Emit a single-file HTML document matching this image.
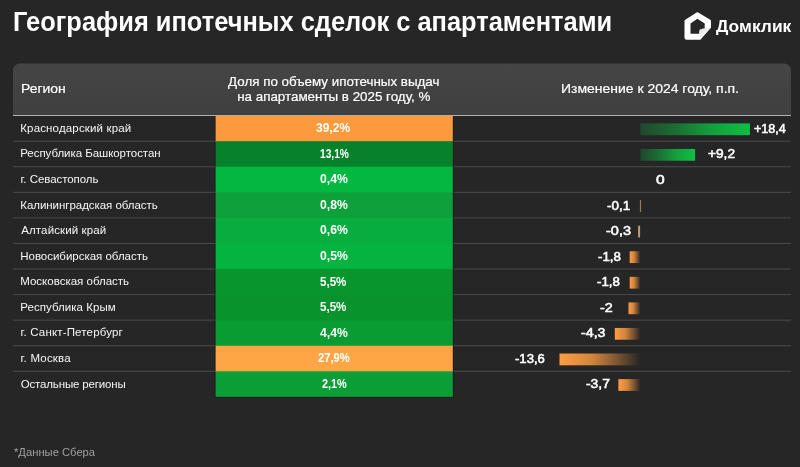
<!DOCTYPE html>
<html lang="ru"><head><meta charset="utf-8"><title>География ипотечных сделок с апартаментами</title>
<style>
html,body{margin:0;padding:0}
body{width:800px;height:467px;overflow:hidden;background:#262626;font-family:"Liberation Sans",sans-serif;color:#fff;position:relative}
h1{position:absolute;margin:0;left:12.5px;top:6.4px;font-size:27px;line-height:32px;font-weight:bold;white-space:nowrap;transform-origin:0 50%;transform:scaleX(.9415)}
.th{position:absolute;font-size:13.5px;line-height:18px;white-space:nowrap;color:#fff;-webkit-text-stroke:.2px #fff}
.bg{position:absolute;left:0;top:0}
.reg{position:absolute;font-size:11.5px;line-height:14px;white-space:nowrap;color:#f6f6f6}
.pct{position:absolute;transform-origin:0 50%;font-size:12px;line-height:14px;font-weight:bold;color:#fff;white-space:nowrap}
.lab{position:absolute;transform-origin:0 50%;font-size:13px;line-height:14px;font-weight:normal;-webkit-text-stroke:.55px #fff;white-space:nowrap}
.foot{position:absolute;left:13.6px;top:444.6px;font-size:11.5px;line-height:14px;color:#a0a0a0;white-space:nowrap;transform-origin:0 50%;transform:scaleX(.975)}
.logo{position:absolute;left:684px;top:12px;width:27px;height:28px}
.brand{position:absolute;left:715.8px;top:16px;font-size:16.5px;line-height:20px;font-weight:bold;white-space:nowrap;transform-origin:0 50%;transform:scaleX(1.055)}
</style></head><body>
<svg class="bg" width="800" height="467" viewBox="0 0 800 467">
<defs>
<linearGradient id="hg" x1="0" y1="0" x2="0" y2="1"><stop offset="0" stop-color="#454545"/><stop offset="1" stop-color="#3f3f3f"/></linearGradient>
<linearGradient id="pg" x1="0" y1="0" x2="1" y2="0"><stop offset="0" stop-color="#0ebe43" stop-opacity=".22"/><stop offset=".3" stop-color="#0ebe43" stop-opacity=".45"/><stop offset=".65" stop-color="#0ebe43" stop-opacity=".8"/><stop offset="1" stop-color="#0ebe43" stop-opacity="1"/></linearGradient>
<linearGradient id="ng" x1="0" y1="0" x2="1" y2="0"><stop offset="0" stop-color="#ff9d42" stop-opacity="1"/><stop offset=".4" stop-color="#ff9d42" stop-opacity=".8"/><stop offset=".75" stop-color="#ff9d42" stop-opacity=".35"/><stop offset="1" stop-color="#ff9d42" stop-opacity="0"/></linearGradient>
</defs>
<path d="M13 115.5 V70.5 a7 7 0 0 1 7 -7 H784 a7 7 0 0 1 7 7 V115.5 Z" fill="url(#hg)"/>
<rect x="13" y="115" width="778" height="1" fill="#b2b2b2"/>
<rect x="13" y="140.67" width="778" height="1" fill="#4b4b4b"/>
<rect x="13" y="166.24" width="778" height="1" fill="#4b4b4b"/>
<rect x="13" y="191.81" width="778" height="1" fill="#4b4b4b"/>
<rect x="13" y="217.38" width="778" height="1" fill="#4b4b4b"/>
<rect x="13" y="242.95" width="778" height="1" fill="#4b4b4b"/>
<rect x="13" y="268.52" width="778" height="1" fill="#4b4b4b"/>
<rect x="13" y="294.09" width="778" height="1" fill="#4b4b4b"/>
<rect x="13" y="319.66" width="778" height="1" fill="#4b4b4b"/>
<rect x="13" y="345.23" width="778" height="1" fill="#4b4b4b"/>
<rect x="13" y="370.80" width="778" height="1" fill="#4b4b4b"/>
<rect x="214.7" y="116.00" width="239.1" height="281.77" fill="#1d1d1d"/>
<rect x="215.6" y="115.90" width="237.2" height="26.07" fill="#fe9a3e"/>
<rect x="640.4" y="123.38" width="109.5" height="11.8" fill="url(#pg)"/>
<rect x="215.6" y="141.17" width="237.2" height="26.37" fill="#07812a"/>
<rect x="640.4" y="148.95" width="54.7" height="11.8" fill="url(#pg)"/>
<rect x="215.6" y="166.74" width="237.2" height="26.37" fill="#03b841"/>
<rect x="215.6" y="192.31" width="237.2" height="26.37" fill="#0ea03a"/>
<rect x="639.9" y="200.09" width="1.2" height="11.8" fill="#e2b184" fill-opacity=".6"/>
<rect x="215.6" y="217.88" width="237.2" height="26.37" fill="#07ae3f"/>
<rect x="638.1" y="225.66" width="2.0" height="11.8" fill="#e9bd94" fill-opacity=".78"/>
<rect x="215.6" y="243.45" width="237.2" height="26.37" fill="#04b340"/>
<rect x="629.7" y="251.24" width="10.7" height="11.8" fill="url(#ng)"/>
<rect x="215.6" y="269.02" width="237.2" height="26.37" fill="#08952e"/>
<rect x="629.7" y="276.81" width="10.7" height="11.8" fill="url(#ng)"/>
<rect x="215.6" y="294.59" width="237.2" height="26.37" fill="#08932d"/>
<rect x="628.5" y="302.38" width="11.9" height="11.8" fill="url(#ng)"/>
<rect x="215.6" y="320.16" width="237.2" height="26.37" fill="#089c32"/>
<rect x="614.8" y="327.94" width="25.6" height="11.8" fill="url(#ng)"/>
<rect x="215.6" y="345.73" width="237.2" height="26.37" fill="#fea546"/>
<rect x="559.5" y="353.52" width="80.9" height="11.8" fill="url(#ng)"/>
<rect x="215.6" y="371.30" width="237.2" height="25.57" fill="#0b9d36"/>
<rect x="618.4" y="379.08" width="22.0" height="11.8" fill="url(#ng)"/>
</svg>
<h1>География ипотечных сделок с апартаментами</h1>
<svg class="logo" viewBox="0 0 27 28">
<defs><linearGradient id="fg" x1="0.1" y1="0" x2="0.6" y2="0.9"><stop offset="0" stop-color="#9a9a9a"/><stop offset="0.25" stop-color="#e6e6e6"/><stop offset="1" stop-color="#ffffff"/></linearGradient></defs>
<path d="M12.6 0.5 Q13.4 0 14.2 0.5 L26.2 7.8 Q27 8.3 27 9.2 L27 15.4 L16.2 27.8 L2.6 27.8 Q0.5 27.8 0.5 25.8 L0.5 9.2 Q0.5 8.3 1.3 7.8 Z M13.4 6.8 L6.5 11.4 L6.5 21.8 L15.4 21.8 L15.4 19.2 Q15.4 17.4 17.2 17.1 L20.7 16.5 L20.7 11.4 Z" fill="#fff" fill-rule="evenodd"/>
<path d="M17.2 17.1 L27 15.4 L16.2 27.8 L15.4 21.8 L15.4 19.2 Q15.4 17.4 17.2 17.1 Z" fill="url(#fg)"/>
</svg>
<div class="brand">Домклик</div>
<div class="th" style="left:21px;top:80px;transform-origin:0 50%;transform:scaleX(1.03)">Регион</div>
<div class="th" style="left:215.5px;width:237px;top:73.5px;text-align:center;line-height:15px"><span style="display:inline-block;transform:scaleX(.99)">Доля по объему ипотечных выдач<br>на апартаменты в 2025 году, %</span></div>
<div class="th" style="left:560.8px;top:79.6px;font-size:13.3px;transform-origin:0 50%;transform:scaleX(1.05)">Изменение к 2024 году, п.п.</div>

<div class="reg" style="left:20.26px;top:120.88px;letter-spacing:0.156px">Краснодарский край</div>
<div class="pct" style="left:316.40px;top:121.18px;transform:scaleX(1.001)">39,2%</div>
<div class="lab" style="left:753.78px;top:121.78px;transform:scaleX(0.968)">+18,4</div>
<div class="reg" style="left:20.26px;top:146.45px;letter-spacing:-0.053px">Республика Башкортостан</div>
<div class="pct" style="left:319.52px;top:146.75px;transform:scaleX(0.850)">13,1%</div>
<div class="lab" style="left:708.00px;top:147.35px;transform:scaleX(1.054)">+9,2</div>
<div class="reg" style="left:20.62px;top:172.03px;letter-spacing:-0.055px">г. Севастополь</div>
<div class="pct" style="left:320.00px;top:172.33px;transform:scaleX(1.016)">0,4%</div>
<div class="lab" style="left:656.00px;top:172.93px;transform:scaleX(1.198)">0</div>
<div class="reg" style="left:20.26px;top:197.59px;letter-spacing:-0.044px">Калининградская область</div>
<div class="pct" style="left:320.00px;top:197.90px;transform:scaleX(1.016)">0,8%</div>
<div class="lab" style="left:606.80px;top:198.50px;transform:scaleX(1.032)">-0,1</div>
<div class="reg" style="left:21.26px;top:223.16px;letter-spacing:0.116px">Алтайский край</div>
<div class="pct" style="left:320.00px;top:223.47px;transform:scaleX(1.016)">0,6%</div>
<div class="lab" style="left:606.00px;top:224.06px;transform:scaleX(1.115)">-0,3</div>
<div class="reg" style="left:20.26px;top:248.74px;letter-spacing:-0.021px">Новосибирская область</div>
<div class="pct" style="left:320.00px;top:249.04px;transform:scaleX(1.016)">0,5%</div>
<div class="lab" style="left:598.00px;top:249.64px;transform:scaleX(1.022)">-1,8</div>
<div class="reg" style="left:20.26px;top:274.31px;letter-spacing:0.002px">Московская область</div>
<div class="pct" style="left:319.95px;top:274.61px;transform:scaleX(0.964)">5,5%</div>
<div class="lab" style="left:597.26px;top:275.20px;transform:scaleX(1.020)">-1,8</div>
<div class="reg" style="left:20.26px;top:299.88px;letter-spacing:0.044px">Республика Крым</div>
<div class="pct" style="left:319.97px;top:300.18px;transform:scaleX(0.964)">5,5%</div>
<div class="lab" style="left:600.26px;top:300.78px;transform:scaleX(1.102)">-2</div>
<div class="reg" style="left:20.62px;top:325.44px;letter-spacing:0.162px">г. Санкт-Петербург</div>
<div class="pct" style="left:320.00px;top:325.75px;transform:scaleX(1.016)">4,4%</div>
<div class="lab" style="left:580.66px;top:326.34px;transform:scaleX(1.094)">-4,3</div>
<div class="reg" style="left:20.62px;top:351.02px;letter-spacing:0.203px">г. Москва</div>
<div class="pct" style="left:318.20px;top:351.32px;transform:scaleX(0.933)">27,9%</div>
<div class="lab" style="left:515.26px;top:351.92px;transform:scaleX(1.008)">-13,6</div>
<div class="reg" style="left:20.73px;top:376.58px;letter-spacing:-0.157px">Остальные регионы</div>
<div class="pct" style="left:321.51px;top:376.88px;transform:scaleX(0.905)">2,1%</div>
<div class="lab" style="left:585.66px;top:377.48px;transform:scaleX(1.068)">-3,7</div>
<div class="foot">*Данные Сбера</div>
</body></html>
